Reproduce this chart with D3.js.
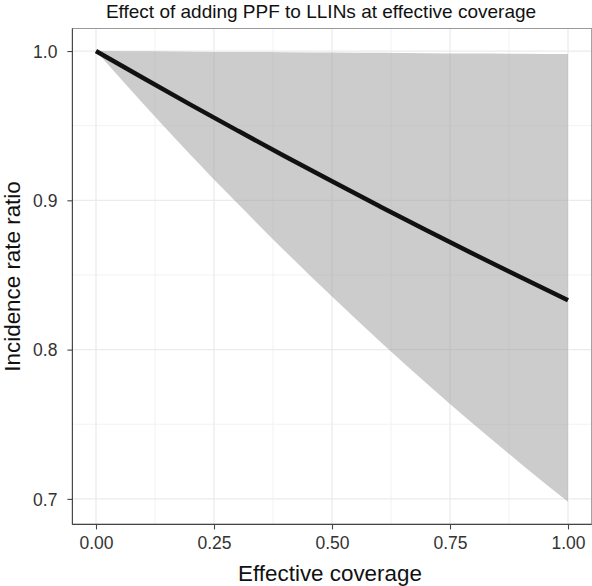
<!DOCTYPE html>
<html><head><meta charset="utf-8">
<script src="https://cdn.jsdelivr.net/npm/d3@7"></script>
<style>body{margin:0;background:#fff}svg{display:block}text{font-family:"Liberation Sans",Arial,sans-serif}</style>
</head><body><svg id="c" width="592" height="586"></svg>
<script>
const title = "Effect of adding PPF to LLINs at effective coverage";
const xLabel = "Effective coverage";
const yLabel = "Incidence rate ratio";
const coverage = [0, 0.1, 0.2, 0.3, 0.4, 0.5, 0.6, 0.7, 0.8, 0.9, 1.0];
const irr = [1.0, 0.9819, 0.9641, 0.9467, 0.9295, 0.9127, 0.8962, 0.8799, 0.8640, 0.8484, 0.833];
const irrLower = [1.0, 0.9647, 0.9306, 0.8978, 0.8661, 0.8355, 0.8060, 0.7775, 0.7500, 0.7236, 0.698];
const irrUpper = [1.0, 0.9998, 0.9996, 0.9994, 0.9992, 0.9990, 0.9988, 0.9986, 0.9984, 0.9982, 0.998];
const xTicks = [0, 0.25, 0.5, 0.75, 1.0];
const xMinor = [0.125, 0.375, 0.625, 0.875];
const yTicks = [0.7, 0.8, 0.9, 1.0];
const yMinor = [0.75, 0.85, 0.95];

const svg = d3.select("#c");
const L = 72.4, R = 591.6, T = 28.5, B = 524.4;
const x = d3.scaleLinear().domain([-0.05, 1.05]).range([L, R]);
const y = d3.scaleLinear().domain([0.6829, 1.0151]).range([B, T]);

const g = svg.append("g");
// minor grid
g.selectAll(".vx").data(xMinor).join("line").attr("x1", d => x(d)).attr("x2", d => x(d)).attr("y1", T).attr("y2", B).attr("stroke", "#f2f2f2").attr("stroke-width", 1);
g.selectAll(".hy").data(yMinor).join("line").attr("y1", d => y(d)).attr("y2", d => y(d)).attr("x1", L).attr("x2", R).attr("stroke", "#f2f2f2").attr("stroke-width", 1);
// major grid
g.selectAll(".vX").data(xTicks).join("line").attr("x1", d => x(d)).attr("x2", d => x(d)).attr("y1", T).attr("y2", B).attr("stroke", "#ebebeb").attr("stroke-width", 1.3);
g.selectAll(".hY").data(yTicks).join("line").attr("y1", d => y(d)).attr("y2", d => y(d)).attr("x1", L).attr("x2", R).attr("stroke", "#ebebeb").attr("stroke-width", 1.3);

const data = coverage.map((c, i) => ({c, m: irr[i], lo: irrLower[i], hi: irrUpper[i]}));
const area = d3.area().x(d => x(d.c)).y0(d => y(d.lo)).y1(d => y(d.hi)).curve(d3.curveMonotoneX);
svg.append("path").datum(data).attr("d", area).attr("fill", "#999999").attr("fill-opacity", 0.5);
const line = d3.line().x(d => x(d.c)).y(d => y(d.m)).curve(d3.curveMonotoneX);
svg.append("path").datum(data).attr("d", line).attr("fill", "none").attr("stroke", "#111").attr("stroke-width", 4.5);

// panel border
svg.append("rect").attr("x", L).attr("y", T).attr("width", R - L).attr("height", B - T).attr("fill", "none").attr("stroke", "#9a9a9a").attr("stroke-width", 1);
svg.append("line").attr("x1", L).attr("x2", L).attr("y1", T).attr("y2", B).attr("stroke", "#444").attr("stroke-width", 1.1);
svg.append("line").attr("x1", L).attr("x2", R).attr("y1", B).attr("y2", B).attr("stroke", "#444").attr("stroke-width", 1.1);

// axes
const xa = svg.append("g").attr("transform", `translate(0,${B})`)
  .call(d3.axisBottom(x).tickValues(xTicks).tickFormat(d3.format(".2f")).tickSize(5).tickSizeOuter(0));
const ya = svg.append("g").attr("transform", `translate(${L},0)`)
  .call(d3.axisLeft(y).tickValues(yTicks).tickFormat(d3.format(".1f")).tickSize(5).tickSizeOuter(0));
[xa, ya].forEach(a => {
  a.select(".domain").remove();
  a.selectAll(".tick line").attr("stroke", "#444").attr("stroke-width", 1.1);
  a.selectAll(".tick text").attr("fill", "#333").attr("font-size", 17.5).attr("font-family", "Liberation Sans, Arial, sans-serif");
});
xa.selectAll(".tick text").attr("dy", 0).attr("y", 25);
ya.selectAll(".tick text").attr("x", -15).attr("dy", "0.36em");

svg.append("text").attr("x", 321).attr("y", 17.5).attr("text-anchor", "middle").attr("font-size", 19).attr("fill", "#111").text(title);
svg.append("text").attr("x", 330).attr("y", 581).attr("text-anchor", "middle").attr("font-size", 22.4).attr("fill", "#111").text(xLabel);
svg.append("text").attr("transform", `translate(19.5,${(T + B) / 2}) rotate(-90)`).attr("text-anchor", "middle").attr("font-size", 22.4).attr("fill", "#111").text(yLabel);
</script></body></html>
